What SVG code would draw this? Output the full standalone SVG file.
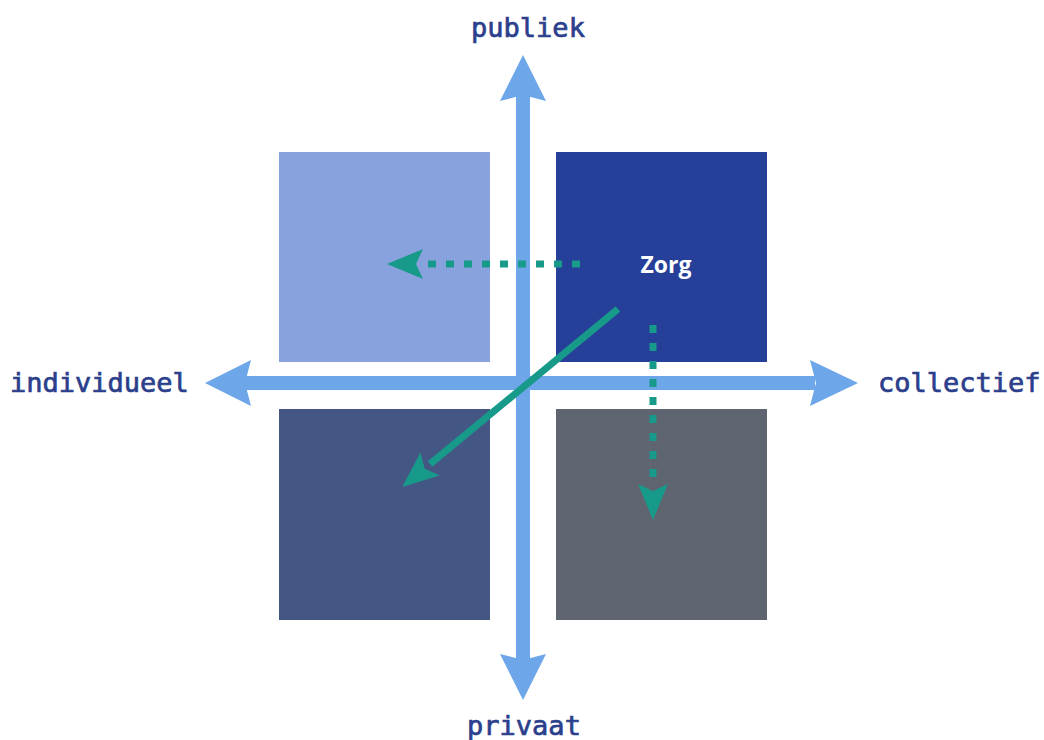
<svg xmlns="http://www.w3.org/2000/svg" width="1044" height="740" viewBox="0 0 1044 740">
<style>
.lbl{font-family:"DejaVu Sans Mono","Liberation Mono",monospace;font-size:27px;font-weight:normal;fill:#2B3F8C;stroke:#2B3F8C;stroke-width:0.7px;}
.axis{fill:#6DA6E9;}
.teal{stroke:#179A8A;stroke-width:7;fill:none;}
.dash{stroke-dasharray:8 10;}
</style>
<defs>
<marker id="ah" markerUnits="userSpaceOnUse" markerWidth="44" markerHeight="36" viewBox="-8 -18 44 36" refX="0" refY="0" orient="auto">
<path d="M36,0 L0,-15 L7,0 L0,15 Z" fill="#179A8A"/>
</marker>
</defs>
<rect width="1044" height="740" fill="#ffffff"/>
<g id="q-tl"><rect x="279" y="152" width="211" height="210" fill="#88A2DE"/></g>
<g id="q-tr"><rect x="556" y="152" width="211" height="210" fill="#26409A"/><text x="666" y="273" text-anchor="middle" font-family="'Open Sans','Liberation Sans',sans-serif" font-size="23" font-weight="bold" fill="#ffffff">Zorg</text></g>
<g id="q-bl"><rect x="279" y="409" width="211" height="211" fill="#445684"/></g>
<g id="q-br"><rect x="556" y="409" width="211" height="211" fill="#5F6570"/></g>
<g id="axes">
<rect class="axis" x="516" y="95" width="14" height="565"/>
<rect class="axis" x="245" y="376" width="570" height="14"/>
<path class="axis" d="M523,55 L546,101 L523,95 L500,101 Z"/>
<path class="axis" d="M523,700 L546,654 L523,660 L500,654 Z"/>
<path class="axis" d="M205,383 L251,360 L245,383 L251,406 Z"/>
<path class="axis" d="M858,383 L810,360 L816,383 L810,406 Z"/>
</g>
<g id="labels">
<text class="lbl" x="528" y="37" text-anchor="middle">publiek</text>
<text class="lbl" x="524" y="735" text-anchor="middle">privaat</text>
<text class="lbl" x="10" y="392">individueel</text>
<text class="lbl" x="878" y="392">collectief</text>
</g>
<g id="connectors">
<line class="teal dash" x1="580" y1="264" x2="423" y2="264" marker-end="url(#ah)"/>
<line class="teal dash" x1="653" y1="325" x2="653" y2="484" marker-end="url(#ah)"/>
<line class="teal" x1="618" y1="309" x2="430" y2="464" marker-end="url(#ah)"/>
</g>
</svg>
